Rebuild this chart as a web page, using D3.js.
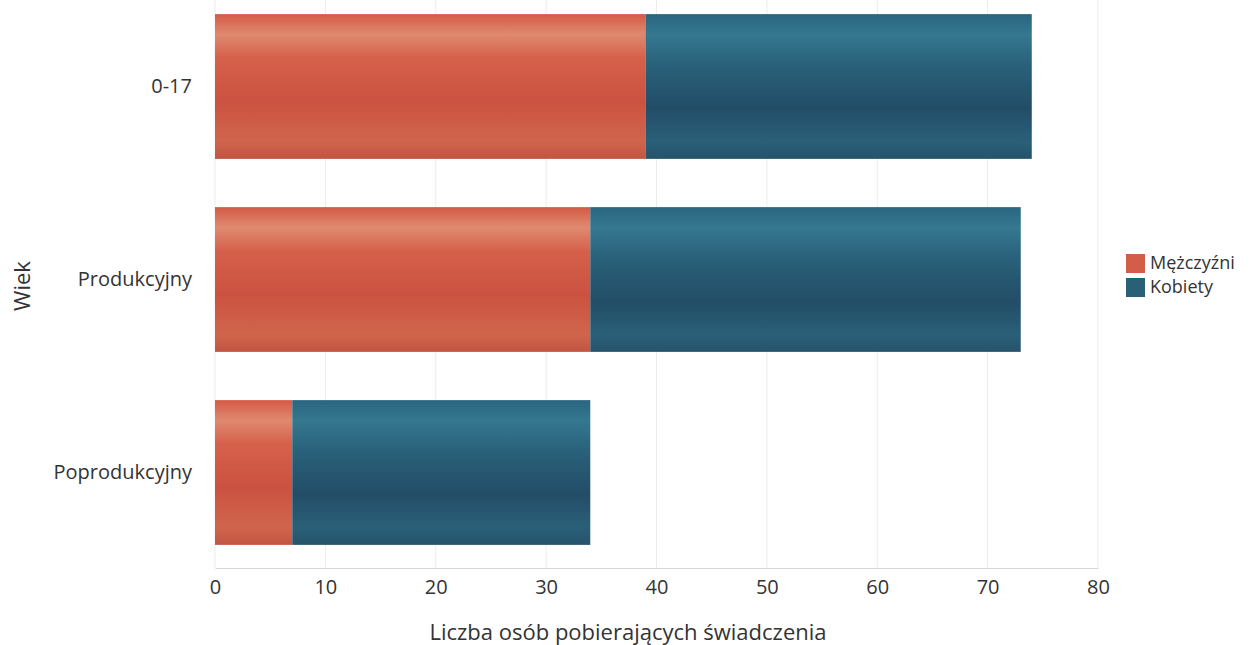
<!DOCTYPE html>
<html><head><meta charset="utf-8">
<script src="https://cdn.jsdelivr.net/npm/d3@7"></script>
<style>body{margin:0;background:#fff}svg{display:block;font-family:"Open Sans",sans-serif}</style>
</head><body><svg id="c" width="1255" height="645"></svg>
<script>
const categories = ["0-17", "Produkcyjny", "Poprodukcyjny"];
const series = ["Mężczyźni", "Kobiety"];
const men = [39, 34, 7];
const women = [35, 39, 27];
const xTicks = [0, 10, 20, 30, 40, 50, 60, 70, 80];

const svg = d3.select("#c");
const x = d3.scaleLinear().domain([0, 80]).range([215, 1098]);
const y = d3.scaleBand().domain(categories).range([-10, 569]).paddingInner(0.25).paddingOuter(0.125);

const defs = svg.append("defs");
const grads = {
  "Mężczyźni": [["0%","#d45a45"],["14%","#df8a70"],["30%","#d6614b"],["60%","#cb5240"],["88%","#d0654c"],["100%","#c25441"]],
  "Kobiety": [["0%","#2a6580"],["14%","#357890"],["35%","#29617a"],["65%","#234d67"],["88%","#2a5f78"],["100%","#26536b"]]
};
series.forEach((s, i) => {
  const g = defs.append("linearGradient").attr("id", "g" + i).attr("x1", 0).attr("x2", 0).attr("y1", 0).attr("y2", 1);
  grads[s].forEach(([o, c]) => g.append("stop").attr("offset", o).attr("stop-color", c));
});

// gridlines
svg.append("g").selectAll("line").data(xTicks).join("line")
  .attr("x1", d => x(d)).attr("x2", d => x(d)).attr("y1", 0).attr("y2", 568)
  .attr("stroke", "#ececec").attr("stroke-width", 1);

// x axis
const xa = svg.append("g").attr("transform", "translate(0,568)")
  .call(d3.axisBottom(x).tickValues(xTicks).tickSize(0).tickPadding(12));
xa.select(".domain").attr("stroke", "#d8d8d8");
xa.selectAll("text").attr("font-size", 20).attr("fill", "#333").attr("font-family", "'Open Sans',sans-serif");

// y axis labels
const ya = svg.append("g").attr("transform", "translate(204,0)")
  .call(d3.axisLeft(y).tickSize(0).tickPadding(12));
ya.select(".domain").remove();
ya.selectAll("text").attr("font-size", 20).attr("fill", "#333").attr("font-family", "'Open Sans',sans-serif");

// stacked bars
const stackData = categories.map((c, i) => ({cat: c, "Mężczyźni": men[i], "Kobiety": women[i]}));
const stacked = d3.stack().keys(series)(stackData);
svg.append("g").selectAll("g").data(stacked).join("g")
  .attr("fill", (d, i) => `url(#g${i})`)
  .selectAll("rect").data(d => d).join("rect")
  .attr("x", d => x(d[0])).attr("width", d => x(d[1]) - x(d[0]))
  .attr("y", d => y(d.data.cat)).attr("height", y.bandwidth());

// axis titles
svg.append("text").attr("x", 628).attr("y", 640).attr("text-anchor", "middle")
  .attr("font-size", 22).attr("fill", "#333").text("Liczba osób pobierających świadczenia");
svg.append("text").attr("transform", "translate(30,286) rotate(-90)").attr("text-anchor", "middle")
  .attr("font-size", 22).attr("fill", "#333").text("Wiek");

// legend
const legColors = ["#d35d48", "#2a5f78"];
const leg = svg.append("g").attr("transform", "translate(1126,252)");
series.forEach((s, i) => {
  const r = leg.append("g").attr("transform", `translate(0,${i * 24})`);
  r.append("rect").attr("y", 2).attr("width", 19).attr("height", 19).attr("fill", legColors[i]);
  r.append("text").attr("x", 24).attr("y", 17).attr("font-size", 18).attr("fill", "#333").text(s);
});
</script></body></html>
